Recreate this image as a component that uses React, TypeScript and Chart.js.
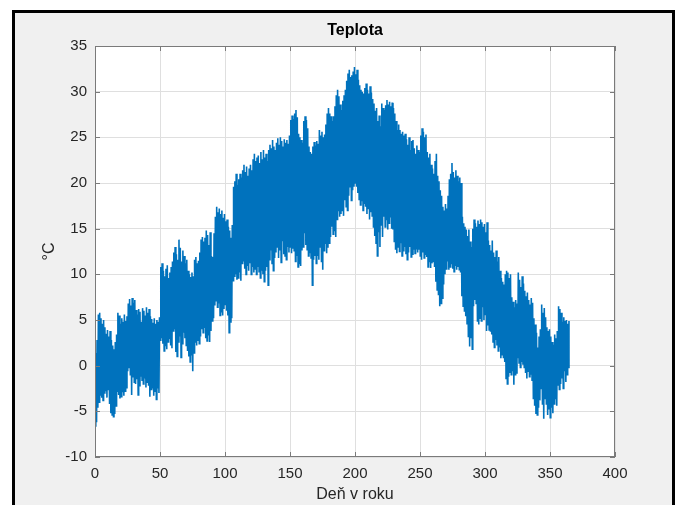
import React, { useEffect, useRef } from "react";
import { Chart, registerables } from "chart.js";

Chart.register(...registerables);

// Daily maximum temperature (°C), day 0..364
const dailyMax: number[] = [
  1.4, 2.8, 5.6, 5.8, 5.2, 4.6, 5.0, 4.2, 3.5, 3.9,
  3.2, 3.8, 2.8, 2.2, 1.8, 2.6, 3.4, 5.8, 5.5, 4.6,
  5.2, 4.8, 5.6, 4.9, 5.4, 6.8, 7.3, 6.6, 7.4, 6.9,
  7.2, 6.1, 5.6, 6.2, 5.9, 4.8, 6.3, 6.0, 5.5, 6.4,
  5.8, 6.2, 5.4, 5.1, 4.7, 5.2, 4.6, 5.0, 4.8, 5.3,
  10.8, 11.2, 10.4, 9.8, 10.6, 11.0, 9.6, 10.2, 10.8, 11.4,
  12.4, 13.0, 12.2, 11.6, 13.8, 12.9, 11.4, 12.6, 12.0, 11.2,
  11.6, 10.4, 10.0, 9.7, 10.2, 9.8, 11.6, 11.9, 11.2, 11.5,
  12.4, 13.8, 14.1, 13.6, 14.0, 14.8, 14.3, 13.2, 14.6, 12.0,
  11.9, 14.5, 16.3, 17.4, 16.8, 17.2, 16.6, 17.0, 16.2, 16.6,
  15.8, 16.0, 15.2, 14.8, 14.0, 15.4, 19.6, 20.2, 21.0, 19.8,
  20.4, 21.0, 20.6, 21.4, 22.0, 21.2, 21.8, 20.8, 21.6, 22.0,
  21.4, 22.6, 23.2, 22.4, 22.8, 23.0, 22.2, 23.4, 22.6, 23.6,
  22.8, 23.2, 22.4, 23.6, 24.2, 23.8, 24.7, 24.0, 23.6, 24.4,
  24.9, 24.2, 25.0, 24.6, 24.0, 24.8, 24.4, 24.7, 24.3, 25.2,
  26.9, 27.4, 27.0, 27.6, 28.0, 27.2, 25.4, 25.0, 24.7, 24.4,
  26.8, 27.3, 26.9, 26.0, 24.0, 23.4, 23.2, 24.0, 24.5, 24.1,
  24.6, 24.3, 25.8, 25.2, 25.6, 25.0, 25.3, 26.4, 27.6, 28.2,
  27.6, 27.3, 26.8, 27.3, 28.4, 29.6, 30.2, 29.5, 28.6, 28.0,
  29.0, 29.6, 30.2, 31.2, 32.0, 32.4, 31.6, 31.8, 32.2, 32.7,
  31.9, 32.4, 31.3, 30.7, 30.2, 30.0, 29.8, 30.4, 30.9, 30.2,
  29.8, 30.6, 29.9, 29.2, 28.7, 27.9, 28.2, 26.8, 27.4, 26.2,
  28.7, 28.2, 28.0, 28.5, 29.1, 28.6, 28.9, 28.4, 28.8, 28.2,
  27.6, 26.8, 25.8, 26.4, 25.8, 25.4, 25.6, 25.2, 25.4, 24.8,
  24.2, 25.0, 23.6, 24.6, 24.7, 23.8, 23.2, 24.1, 23.6, 23.4,
  25.2, 26.0, 25.6, 25.0, 25.3, 23.4, 22.8, 23.2, 22.0, 21.6,
  21.0, 22.4, 23.2, 20.8, 20.2, 19.2, 18.6, 17.4, 17.0, 17.7,
  17.2, 18.6, 20.4, 21.0, 22.2, 21.2, 20.6, 21.4, 20.8, 20.2,
  20.6, 20.0, 16.3, 15.6, 15.2, 14.9, 14.2, 14.9, 13.6, 13.0,
  15.0, 16.0, 15.6, 15.2, 15.9, 15.5, 16.0, 15.7, 15.2, 15.5,
  14.6, 15.7, 13.7, 13.2, 12.6, 13.7, 12.4, 11.9, 12.6, 11.4,
  11.9, 10.4, 9.6, 9.2, 8.9, 10.0, 10.4, 10.2, 9.6, 10.0,
  7.5, 7.0, 6.4, 7.2, 6.8, 10.2, 9.4, 8.6, 9.8, 9.0,
  8.2, 7.6, 8.0, 7.2, 6.7, 7.4, 6.9, 5.2, 4.5, 3.6,
  2.0, 3.2, 4.0, 6.7, 5.8, 6.3, 5.3, 4.2, 3.8, 4.0,
  3.2, 2.6, 2.3, 3.4, 3.0, 3.8, 6.5, 6.2, 5.8, 4.8,
  5.3, 4.9, 5.0, 4.6, 4.9,
];

// Daily minimum temperature (°C), day 0..364
const dailyMin: number[] = [
  -6.6, -6.2, -4.6, -4.0, -3.2, -3.5, -3.8, -3.0, -2.8, -3.5,
  -2.6, -4.2, -5.2, -5.4, -5.6, -5.3, -4.4, -2.8, -3.2, -3.6,
  -3.4, -2.9, -3.3, -2.8, -2.4, -0.6, -0.2, -1.0, -3.2, -1.3,
  -1.8, -2.0, -1.5, -3.2, -2.2, -1.2, -1.6, -2.0, -1.4, -2.4,
  -1.8, -2.2, -3.4, -2.6, -2.4, -3.3, -2.8, -3.7, -2.5, -3.0,
  2.8, 3.0, 2.4, 1.6, 2.2, 1.8, 2.6, 3.0, 2.2, 1.9,
  3.8, 4.0, 1.5, 1.0, 2.6, 3.2, 0.9, 2.4, 3.6, 3.0,
  2.2, 1.6, 1.0, 0.4, 1.2, -0.6, 1.4, 2.6, 2.2, 2.7,
  2.4, 3.2, 4.0, 3.6, 4.2, 3.0, 2.7, 3.4, 2.6, 3.8,
  4.9, 5.2, 6.6, 7.1, 6.4, 6.8, 5.5, 5.9, 5.5, 6.2,
  6.7, 6.0, 5.5, 3.6, 4.8, 5.2, 9.3, 9.8, 10.0, 9.4,
  9.6, 10.2, 9.3, 11.2, 11.5, 10.6, 10.0, 11.0, 10.4, 11.2,
  10.0, 10.8, 10.2, 10.6, 10.0, 10.8, 10.3, 9.6, 10.4, 10.0,
  9.2, 10.4, 10.8, 8.8, 11.6, 12.6, 11.2, 10.4, 11.8, 12.4,
  13.0, 11.8, 12.6, 11.3, 13.7, 12.2, 12.0, 11.6, 13.0, 12.4,
  13.0, 12.3, 12.8, 12.6, 11.4, 12.0, 10.8, 11.2, 10.9, 12.6,
  13.0, 14.5, 13.2, 12.7, 12.0, 12.3, 11.8, 8.8, 11.6, 12.0,
  11.2, 12.0, 11.6, 13.0, 11.4, 10.5, 12.6, 13.4, 12.3, 12.9,
  13.4, 14.1, 15.2, 14.4, 14.8, 14.1, 16.0, 17.0, 16.3, 16.6,
  17.0, 16.4, 18.1, 17.4, 17.0, 18.6, 19.6, 18.1, 19.2, 19.6,
  20.0, 19.6, 18.9, 18.2, 17.6, 18.0, 17.0, 17.8, 17.4, 16.6,
  17.2, 16.0, 16.8, 16.4, 15.2, 14.2, 13.4, 12.0, 14.6, 13.0,
  15.4, 14.1, 16.3, 15.2, 16.0, 14.9, 15.6, 16.3, 15.0, 14.9,
  13.6, 12.7, 12.3, 13.0, 12.5, 13.4, 12.0, 12.6, 13.0, 12.2,
  11.6, 12.4, 13.0, 11.9, 12.2, 12.7, 12.3, 12.8, 12.4, 12.7,
  12.0, 11.6, 12.4, 11.8, 12.2, 11.9, 10.8, 11.4, 10.7, 11.2,
  11.4, 10.8, 9.2, 8.3, 7.8, 6.5, 6.8, 7.4, 8.9, 10.0,
  10.6, 11.4, 10.5, 10.8, 11.2, 10.6, 10.3, 11.0, 10.5, 10.8,
  10.5, 10.2, 7.6, 6.5, 6.0, 5.4, 4.6, 3.2, 2.1, 3.0,
  1.8, 6.5, 7.2, 6.8, 4.9, 4.5, 5.2, 4.9, 6.4, 5.0,
  5.6, 3.8, 4.4, 3.9, 3.8, 3.4, 2.6, 2.0, 2.8, 2.2,
  1.6, 2.0, 0.8, 1.2, 0.9, 0.4, -1.4, -2.0, -1.2, -0.8,
  -1.0, -0.6, -2.1, -1.0, -0.8, 0.8, 0.3, -0.2, 0.4, 0.1,
  -0.2, -0.8, -1.4, -0.6, -1.2, -1.0, -1.6, -3.6, -4.4, -5.3,
  -5.4, -4.6, -3.8, -2.5, -4.2, -5.8, -3.6, -4.2, -5.4, -4.8,
  -5.7, -4.6, -5.2, -4.2, -3.6, -4.4, -2.1, -2.6, -2.0, -1.4,
  -2.5, -0.6, -1.8, -1.0, -0.2,
];

const titleText = "Teplota";
const xAxisTitle = "Deň v roku";
const yAxisTitle = "°C";
const xTicks = [0, 50, 100, 150, 200, 250, 300, 350, 400];
const yTicks = [-10, -5, 0, 5, 10, 15, 20, 25, 30, 35];

const FONT = "'Liberation Sans', Arial, Helvetica, sans-serif";
const TEXT = "#262626";

const boxPlugin = {
  id: "matlabBox",
  beforeDraw(chart: any) {
    const { ctx, chartArea: a } = chart;
    ctx.save();
    ctx.fillStyle = "#ffffff";
    ctx.fillRect(a.left, a.top, a.right - a.left, a.bottom - a.top);
    ctx.restore();
  },
  afterDraw(chart: any) {
    const { ctx, chartArea: a, scales } = chart;
    ctx.save();
    ctx.strokeStyle = "#7a7a7a";
    ctx.lineWidth = 1;
    ctx.strokeRect(a.left + 0.5, a.top + 0.5, a.right - a.left - 1, a.bottom - a.top - 1);
    const len = 5;
    ctx.beginPath();
    for (const v of xTicks) {
      const x = Math.round(scales.x.getPixelForValue(v)) + 0.5;
      ctx.moveTo(x, a.bottom);
      ctx.lineTo(x, a.bottom - len);
      ctx.moveTo(x, a.top);
      ctx.lineTo(x, a.top + len);
    }
    for (const v of yTicks) {
      const y = Math.round(scales.y.getPixelForValue(v)) + 0.5;
      ctx.moveTo(a.left, y);
      ctx.lineTo(a.left + len, y);
      ctx.moveTo(a.right, y);
      ctx.lineTo(a.right - len, y);
    }
    ctx.stroke();
    ctx.restore();
  },
};

export default function App() {
  const ref = useRef<HTMLCanvasElement | null>(null);

  useEffect(() => {
    document.body.style.overflow = "hidden";
    const points: { x: number; y: number }[] = [];
    for (let d = 0; d < dailyMax.length; d++) {
      points.push({ x: d + 0.2, y: dailyMin[d] });
      points.push({ x: d + 0.6, y: dailyMax[d] });
    }
    const chart = new Chart(ref.current as HTMLCanvasElement, {
      type: "line",
      data: {
        datasets: [
          {
            data: points,
            borderColor: "rgb(0,114,189)",
            borderWidth: 1.6,
            pointRadius: 0,
            tension: 0,
            fill: false,
          },
        ],
      },
      options: {
        animation: false,
        responsive: false,
        devicePixelRatio: 1,
        events: [],
        layout: { padding: { top: 0, right: 63, bottom: 0, left: 0 } },
        plugins: {
          legend: { display: false },
          tooltip: { enabled: false },
          title: {
            display: true,
            text: titleText,
            fullSize: false,
            color: "#000000",
            font: { family: FONT, size: 16, weight: "bold", lineHeight: 1.2 },
            padding: { top: 21.4, bottom: 5.4 },
          },
        },
        scales: {
          x: {
            type: "linear",
            min: 0,
            max: 400,
            afterFit: (s: any) => {
              s.height = 48;
            },
            afterBuildTicks: (s: any) => {
              s.ticks = xTicks.map((v) => ({ value: v }));
            },
            ticks: {
              color: TEXT,
              font: { family: FONT, size: 15 },
              padding: 8,
              maxRotation: 0,
            },
            grid: { color: "#dfdfdf", drawTicks: false },
            border: { display: false },
            title: {
              display: true,
              text: xAxisTitle,
              color: TEXT,
              font: { family: FONT, size: 16, lineHeight: 1.2 },
              padding: { top: 0, bottom: 0.4 },
            },
          },
          y: {
            type: "linear",
            min: -10,
            max: 35,
            afterFit: (s: any) => {
              s.width = 95;
            },
            afterBuildTicks: (s: any) => {
              s.ticks = yTicks.map((v) => ({ value: v }));
            },
            ticks: {
              color: TEXT,
              font: { family: FONT, size: 15 },
              padding: 8,
            },
            grid: { color: "#dfdfdf", drawTicks: false },
            border: { display: false },
            title: {
              display: true,
              text: yAxisTitle,
              color: TEXT,
              font: { family: FONT, size: 16, lineHeight: 1.2 },
              padding: { top: 39.6, bottom: 0 },
            },
          },
        },
      },
      plugins: [boxPlugin],
    } as any);
    return () => chart.destroy();
  }, []);

  return (
    <div
      style={{
        position: "fixed",
        left: 0,
        top: 0,
        width: 678,
        height: 505,
        background: "#ffffff",
        overflow: "hidden",
      }}
    >
      <div
        style={{
          position: "absolute",
          left: 12,
          top: 10,
          width: 657,
          height: 520,
          borderTop: "3px solid #000",
          borderLeft: "3px solid #000",
          borderRight: "3px solid #000",
          background: "#f0f0f0",
        }}
      />
      <canvas
        ref={ref}
        width={678}
        height={505}
        style={{ position: "absolute", left: 0, top: 0, width: 678, height: 505 }}
      />
    </div>
  );
}
